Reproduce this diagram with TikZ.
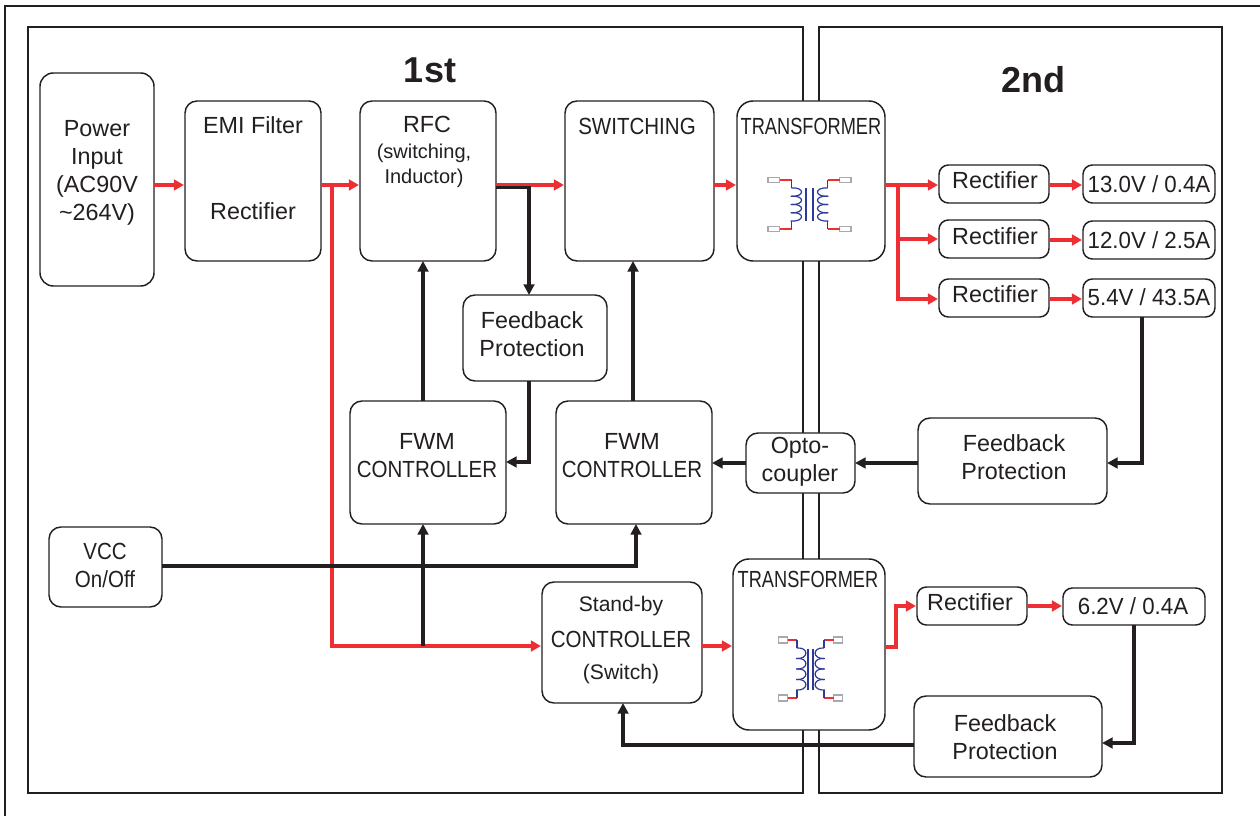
\documentclass[tikz,border=0pt]{standalone}
\usepackage{graphicx}
\usepackage{fontspec}
\setmainfont{Liberation Sans}
\usetikzlibrary{arrows.meta}
\definecolor{ink}{HTML}{231F20}
\definecolor{pwr}{HTML}{ED2E32}
\definecolor{coil}{HTML}{2E3A97}
\definecolor{pin}{HTML}{A8A9AD}
\newcommand\cond[1]{\scalebox{0.88}[1]{#1}}
\newcommand\condx[1]{\scalebox{0.78}[1]{#1}}
\newcommand\condo[1]{\scalebox{0.955}[1]{#1}}
\newcommand\bx[6][9pt]{%
  \pgfmathsetmacro\bw{(#5-#3)*0.75}\pgfmathsetmacro\bh{(#6-#4)*0.75}%
  \pgfmathsetmacro\bcx{(#3+#5)/2}\pgfmathsetmacro\bcy{(#4+#6)/2}%
  \node[box,rounded corners=#1,minimum width=\bw pt,minimum height=\bh pt] (#2) at (\bcx,\bcy) {};}
% transformer symbol: cx, ytop, ybot, blue half-width, pin width, bump depth, core half gap, lead length, pin half height
\newcommand\xfmr[9]{%
 \begin{scope}[shift={(#1,0)}]
 \foreach \s in {-1,1}{
  \draw[draw=pin,fill=white,line width=.9pt] (\s*#4+\s*#8,#2-#9) rectangle (\s*#4+\s*#8+\s*#5,#2+#9);
  \draw[draw=pin,fill=white,line width=.9pt] (\s*#4+\s*#8,#3-#9) rectangle (\s*#4+\s*#8+\s*#5,#3+#9);
  \draw[pwr,line width=.9pt] (\s*#4,#2) -- (\s*#4+\s*#8,#2);
  \draw[pwr,line width=.9pt] (\s*#4,#3) -- (\s*#4+\s*#8,#3);
  \pgfmathsetmacro\ya{#2+8}\pgfmathsetmacro\yb{#3-8}\pgfmathsetmacro\hh{(\yb-\ya)/4}
  \draw[coil,line width=.9pt] (\s*#4,#2) -- (\s*#4,\ya);
  \draw[coil,line width=.9pt] (\s*#4,#3) -- (\s*#4,\yb);
  \foreach \k in {0,1,2,3}{
   \pgfmathsetmacro\yy{\ya+\k*\hh}\pgfmathsetmacro\yz{\yy+\hh}
   \draw[coil,line width=.9pt] (\s*#4,\yy) .. controls (\s*#4-\s*#6*1.5,\yy-1) and (\s*#4-\s*#6*1.5,\yz+1) .. (\s*#4+\s*#6*0.1,\yz);
  }
  \draw[coil,line width=.9pt] (\s*#7,#2+8.5) -- (\s*#7,#3-8);
 }
 \end{scope}}
\tikzset{
 panel/.style={draw=ink,line width=1.1pt},
 box/.style={draw=ink,fill=white,line width=1.1pt,inner sep=0pt,outer sep=0pt},
 txt/.style={font=\fontsize{17.5}{21}\selectfont,align=center,inner sep=0pt,text=ink},
 small/.style={font=\fontsize{15}{19}\selectfont,align=center,inner sep=0pt,text=ink},
 smallb/.style={font=\fontsize{15.8}{19}\selectfont,align=center,inner sep=0pt,text=ink},
 head/.style={font=\fontsize{27}{30}\bfseries\selectfont,inner sep=0pt,text=ink},
 rd/.style={draw=pwr,line width=2.6pt,shorten >=0.8pt,-{Triangle[length=7.5pt,width=8pt]}},
 bk/.style={draw=ink,line width=2.6pt,-{Triangle[length=8pt,width=8pt]}},
}
\begin{document}
\begin{tikzpicture}[x=0.75pt,y=-0.75pt]
\useasboundingbox (0,0) rectangle (1260,816);
\coordinate (fa) at (5,816); \coordinate (fb) at (5,6); \coordinate (fc) at (1260,6);
\draw[draw=ink,line width=2.2pt] (fa) -- (fb) -- (fc);
\draw[panel] (28,27) rectangle (803,793);
\draw[panel] (819,27) rectangle (1222,793);
% boxes
\bx[10pt]{power}{40}{73}{154}{286}
\bx{emi}{185}{101}{321}{261}
\bx{rfc}{360}{101}{496}{261}
\bx{sw}{565}{101}{714}{261}
\bx[12pt]{tone}{737}{101}{885}{261}
\bx[7pt]{ra}{939}{165}{1049}{203}
\bx[7pt]{rb}{939}{220}{1049}{258}
\bx[7pt]{rc}{939}{279}{1049}{317}
\bx[7pt]{oa}{1083}{165}{1215}{203}
\bx[7pt]{ob}{1083}{221}{1215}{259}
\bx[7pt]{oc}{1083}{279}{1215}{317}
\bx{fbt}{463}{295}{607}{381}
\bx{fwa}{350}{401}{506}{524}
\bx{fwb}{556}{401}{712}{524}
\bx{opto}{746}{433}{855}{493}
\bx{fbr}{918}{418}{1107}{504}
\bx{vcc}{49}{527}{162}{607}
\bx{stby}{542}{582}{702}{703}
\bx[12pt]{ttwo}{733}{559}{885}{730}
\bx[7pt]{rd}{917}{587}{1027}{625}
\bx[7pt]{od}{1063}{588}{1205}{625}
\bx{fbb}{914}{696}{1102}{777}
% texts
\node[head] (h1) at (430,70) {1st};
\node[head] (h2) at (1033,80) {2nd};
\node[txt] (tpower) at (97,173) {Power\\Input\\(AC90V\\\textasciitilde264V)};
\node[txt] (temia) at (253,125) {EMI Filter};
\node[txt] (temib) at (253,211) {Rectifier};
\node[txt] (trfc) at (427,124) {RFC};
\node[small] (trfcb) at (424,166) {(switching,\\Inductor)};
\node[txt] (tsw) at (637,126) {\cond{SWITCHING}};
\node[txt] (ttone) at (811,126) {\condx{TRANSFORMER}};
\node[txt] (ttwoa) at (808,579) {\condx{TRANSFORMER}};
\node[txt] (tra) at (995,180) {Rectifier};
\node[txt] (trb) at (995,236) {Rectifier};
\node[txt] (trc) at (995,294) {Rectifier};
\node[txt] (trd) at (970,602) {Rectifier};
\node[txt] (toa) at (1149,184) {\condo{13.0V / 0.4A}};
\node[txt] (tob) at (1149,240) {\condo{12.0V / 2.5A}};
\node[txt] (toc) at (1149,297) {\condo{5.4V / 43.5A}};
\node[txt] (tod) at (1133,606) {\condo{6.2V / 0.4A}};
\node[txt] (tfbt) at (532,334) {Feedback\\Protection};
\node[txt] (tfwa) at (427,456) {FWM\\\cond{CONTROLLER}};
\node[txt] (tfwb) at (632,456) {FWM\\\cond{CONTROLLER}};
\node[txt] (topto) at (800,462) {Opto-\\coupler};
\node[txt] (tfbr) at (1014,457) {Feedback\\Protection};
\node[txt] (tfbb) at (1005,737) {Feedback\\Protection};
\node[txt] (tvcc) at (105,565) {\cond{VCC}\\\cond{On/Off}};
\node[smallb] (tsa) at (621,606) {Stand-by};
\node[txt] (tsb) at (621,639) {\cond{CONTROLLER}};
\node[smallb] (tsc) at (621,674) {(Switch)};
% red connectors
\draw[rd] (power.east |- 0,185) -- (emi.west |- 0,185);
\draw[rd] (emi.east |- 0,185) -- (rfc.west |- 0,185);
\draw[rd] (rfc.east |- 0,185) -- (sw.west |- 0,185);
\draw[rd] (sw.east |- 0,185) -- (tone.west |- 0,185);
\draw[rd,line width=3.6pt] (tone.east |- 0,185) -- (ra.west |- 0,185);
\draw[rd] (898,185) |- (rb.west |- 0,239);
\draw[rd] (898,239) |- (rc.west |- 0,299);
\draw[rd] (ra.east |- 0,185) -- (oa.west |- 0,185);
\draw[rd] (rb.east |- 0,240) -- (ob.west |- 0,240);
\draw[rd] (rc.east |- 0,299) -- (oc.west |- 0,299);
\draw[rd] (332,185) |- (stby.west |- 0,646);
\draw[rd] (stby.east |- 0,646) -- (ttwo.west |- 0,646);
\draw[rd] (ttwo.east |- 0,647) -| (896,606) -- (rd.west |- 0,606);
\draw[rd] (rd.east |- 0,606) -- (od.west |- 0,606);
% black connectors
\draw[bk] (fwa.north -| 423,0) -- (rfc.south -| 423,0);
\draw[bk] (fwb.north -| 633,0) -- (sw.south -| 633,0);
\draw[bk] (rfc.east |- 0,187.5) -| (fbt.north -| 529,0);
\draw[bk] (fbt.south -| 529,0) |- (fwa.east |- 0,462);
\draw[bk] (oc.south -| 1142,0) |- (fbr.east |- 0,463);
\draw[bk] (fbr.west |- 0,463) -- (opto.east |- 0,463);
\draw[bk] (opto.west |- 0,463) -- (fwb.east |- 0,463);
\draw[bk] (vcc.east |- 0,566) -| (fwb.south -| 636,0);
\draw[bk] (423,646) -- (fwa.south -| 423,0);
\draw[bk] (fbb.west |- 0,745) -| (stby.south -| 623,0);
\draw[bk] (od.south -| 1134,0) |- (fbb.east |- 0,743);
% transformer symbols
\xfmr{809.5}{180}{229}{18}{11.5}{9}{3.5}{12}{2.5}
\xfmr{810.5}{640}{698}{13.5}{9}{8}{2.5}{9.5}{3}
\end{tikzpicture}
\end{document}
